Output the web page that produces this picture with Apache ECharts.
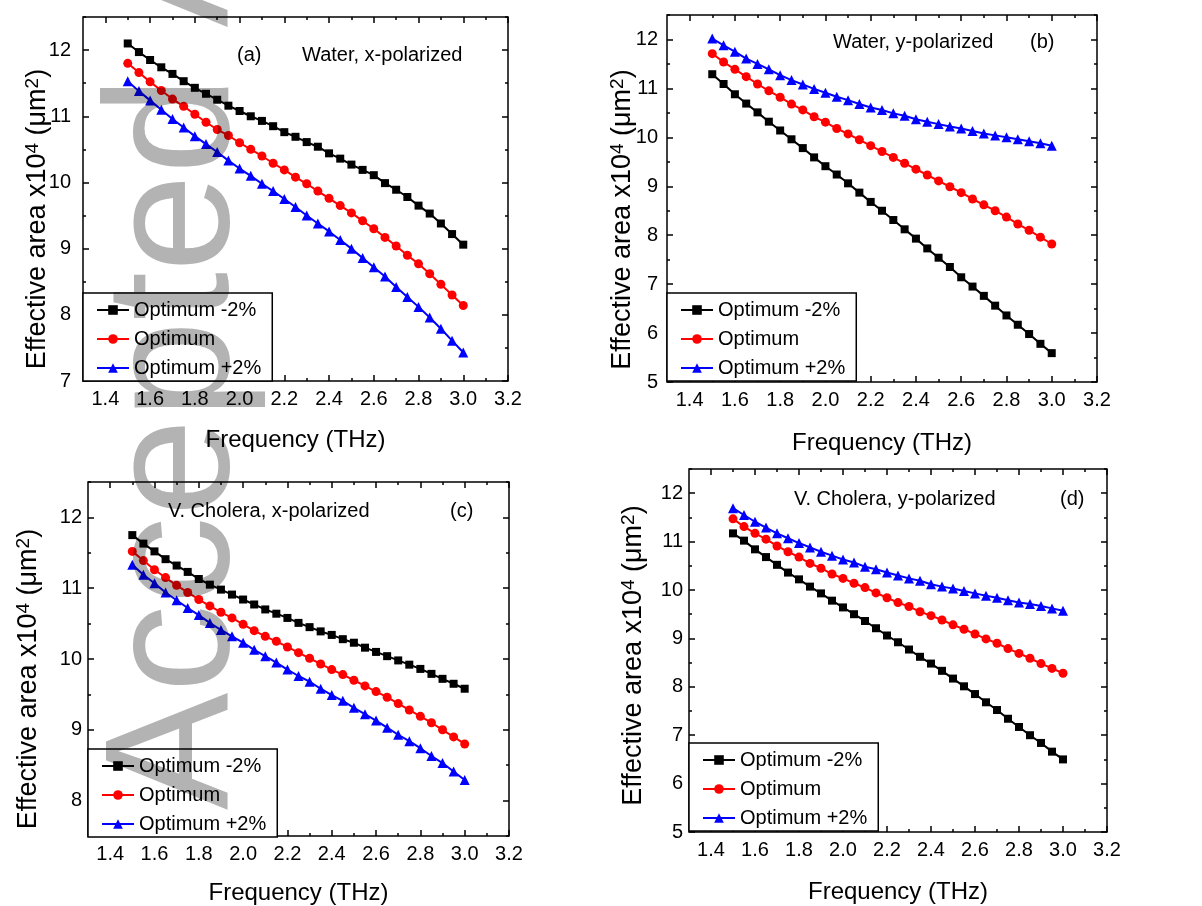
<!DOCTYPE html>
<html>
<head>
<meta charset="utf-8">
<script src="https://cdn.jsdelivr.net/npm/echarts@6/dist/echarts.min.js"></script>
<style>
  html, body { margin: 0; padding: 0; background: #fff; }
  #chart { width: 1202px; height: 906px; }
</style>
</head>
<body>
<div id="chart"></div>
<script>
// ---------------- data ----------------
const freq = [1.50,1.55,1.60,1.65,1.70,1.75,1.80,1.85,1.90,1.95,2.00,2.05,2.10,2.15,2.20,2.25,2.30,2.35,2.40,2.45,2.50,2.55,2.60,2.65,2.70,2.75,2.80,2.85,2.90,2.95,3.00];

const seriesNames = ['Optimum -2%', 'Optimum', 'Optimum +2%'];

// (a) Water, x-polarized
const waterX_m2  = [12.10,11.97,11.85,11.74,11.64,11.53,11.43,11.34,11.25,11.16,11.08,11.00,10.93,10.85,10.76,10.69,10.61,10.54,10.44,10.36,10.27,10.19,10.11,9.99,9.89,9.78,9.65,9.53,9.38,9.22,9.06];
const waterX_opt = [11.80,11.66,11.52,11.39,11.26,11.15,11.03,10.91,10.80,10.71,10.60,10.50,10.40,10.29,10.19,10.08,9.98,9.87,9.76,9.65,9.54,9.42,9.30,9.17,9.04,8.90,8.77,8.62,8.46,8.30,8.14];
const waterX_p2  = [11.53,11.38,11.24,11.10,10.96,10.83,10.70,10.58,10.46,10.33,10.21,10.10,9.98,9.87,9.75,9.63,9.50,9.38,9.26,9.13,9.00,8.86,8.72,8.58,8.42,8.27,8.12,7.96,7.79,7.61,7.43];

// (b) Water, y-polarized
const waterY_m2  = [11.29,11.09,10.88,10.69,10.51,10.32,10.14,9.96,9.78,9.59,9.41,9.24,9.06,8.87,8.68,8.50,8.31,8.12,7.93,7.73,7.54,7.35,7.14,6.95,6.76,6.56,6.36,6.17,5.98,5.78,5.59];
const waterY_opt = [11.71,11.54,11.39,11.24,11.09,10.95,10.82,10.68,10.56,10.42,10.31,10.18,10.07,9.95,9.83,9.71,9.59,9.47,9.35,9.23,9.11,8.99,8.87,8.74,8.62,8.50,8.37,8.23,8.10,7.96,7.82];
const waterY_p2  = [12.02,11.88,11.75,11.61,11.50,11.39,11.27,11.17,11.08,10.99,10.91,10.83,10.76,10.68,10.61,10.56,10.49,10.44,10.37,10.32,10.27,10.22,10.18,10.13,10.08,10.04,10.00,9.96,9.92,9.88,9.83];

// (c) V. Cholera, x-polarized
const cholX_m2  = [11.75,11.63,11.52,11.41,11.32,11.23,11.13,11.05,10.98,10.91,10.84,10.77,10.70,10.64,10.58,10.51,10.45,10.39,10.34,10.28,10.23,10.16,10.10,10.04,9.98,9.92,9.86,9.79,9.72,9.65,9.58];
const cholX_opt = [11.52,11.39,11.26,11.15,11.04,10.94,10.84,10.75,10.66,10.58,10.49,10.40,10.32,10.25,10.17,10.09,10.01,9.93,9.85,9.78,9.70,9.62,9.54,9.46,9.37,9.28,9.19,9.10,9.00,8.90,8.80];
const cholX_p2  = [11.33,11.19,11.07,10.94,10.83,10.72,10.62,10.51,10.41,10.32,10.23,10.13,10.04,9.95,9.85,9.76,9.68,9.58,9.49,9.41,9.31,9.22,9.13,9.03,8.93,8.84,8.74,8.63,8.53,8.41,8.29];

// (d) V. Cholera, y-polarized
const cholY_m2  = [11.17,11.02,10.84,10.68,10.52,10.36,10.22,10.07,9.93,9.78,9.64,9.50,9.36,9.21,9.06,8.92,8.77,8.62,8.48,8.33,8.17,8.01,7.85,7.68,7.52,7.34,7.17,7.00,6.84,6.66,6.50];
const cholY_opt = [11.47,11.31,11.17,11.05,10.91,10.79,10.68,10.55,10.45,10.33,10.24,10.14,10.05,9.94,9.84,9.74,9.66,9.55,9.47,9.38,9.28,9.19,9.09,8.99,8.90,8.79,8.69,8.59,8.48,8.38,8.28];
const cholY_p2  = [11.69,11.55,11.41,11.29,11.17,11.07,10.97,10.88,10.79,10.71,10.63,10.57,10.48,10.43,10.36,10.30,10.24,10.19,10.12,10.07,10.03,9.98,9.93,9.88,9.84,9.79,9.74,9.71,9.67,9.62,9.57];

// tick labels
const xMajorTicks = [1.4,1.6,1.8,2.0,2.2,2.4,2.6,2.8,3.0,3.2];
const xMinorTicks = [1.5,1.7,1.9,2.1,2.3,2.5,2.7,2.9,3.1];
const yMajorA = [7,8,9,10,11,12];
const yMinorA = [7.5,8.5,9.5,10.5,11.5,12.5];
const yMajorB = [5,6,7,8,9,10,11,12];
const yMinorB = [5.5,6.5,7.5,8.5,9.5,10.5,11.5,12.5];
const yMajorC = [8,9,10,11,12];
const yMinorC = [7.5,8.5,9.5,10.5,11.5,12.5];

const panelTitles = ['Water, x-polarized', 'Water, y-polarized', 'V. Cholera, x-polarized', 'V. Cholera, y-polarized'];
const panelTags = ['(a)', '(b)', '(c)', '(d)'];
const xTitle = 'Frequency (THz)';
const yTitle = 'Effective area x10{sup|4} (\u03bcm{sup|2})';
const watermark = 'Accepted Article';

// ---------------- layout ----------------
const FONT = 'Arial, "Liberation Sans", Helvetica, sans-serif';
const colors = ['#000000', '#ff0000', '#0000ff'];
const symbols = ['rect', 'circle', 'triangle'];
const symbolSizes = [8, 9, 10];

const panels = [
  { grid: {left: 83, top: 17, width: 425, height: 364}, ymin: 7, ymax: 12.5, yMajor: yMajorA, yMinor: yMinorA,
    data: [waterX_m2, waterX_opt, waterX_p2], xGap: 47, yGap: 30, yShift: 20, yLabMargin: 12,
    legend: {left: 83, top: 293},
    title: {x: 302, y: 55}, tag: {x: 237, y: 55} },
  { grid: {left: 667, top: 15, width: 430, height: 367}, ymin: 5, ymax: 12.5, yMajor: yMajorB, yMinor: yMinorB,
    data: [waterY_m2, waterY_opt, waterY_p2], xGap: 49, yGap: 29, yShift: 21, yLabMargin: 9,
    legend: {left: 667, top: 293},
    title: {x: 833, y: 42}, tag: {x: 1030, y: 42} },
  { grid: {left: 88, top: 482, width: 421, height: 354}, ymin: 7.5, ymax: 12.5, yMajor: yMajorC, yMinor: yMinorC,
    data: [cholX_m2, cholX_opt, cholX_p2], xGap: 45, yGap: 44, yShift: 20, yLabMargin: 6,
    legend: {left: 88, top: 749},
    title: {x: 168, y: 511}, tag: {x: 450, y: 511} },
  { grid: {left: 689, top: 469, width: 418, height: 363}, ymin: 5, ymax: 12.5, yMajor: yMajorB, yMinor: yMinorB,
    data: [cholY_m2, cholY_opt, cholY_p2], xGap: 48, yGap: 40, yShift: 5, yLabMargin: 6,
    legend: {left: 689, top: 743},
    title: {x: 794, y: 499}, tag: {x: 1060, y: 499} }
];

const grids = [], xAxes = [], yAxes = [], series = [], legends = [], graphics = [];

function tickAxis(base, pos, ticks, len, extra) {
  return Object.assign({
    type: 'value', position: pos,
    axisLine: {show: false, onZero: false},
    splitLine: {show: false},
    axisTick: {show: true, inside: true, length: len, customValues: ticks,
               lineStyle: {color: '#000', width: 1.5}},
    axisLabel: {show: false}
  }, base, extra || {});
}

panels.forEach((p, g) => {
  grids.push(Object.assign({show: true, borderColor: '#000', borderWidth: 1.5,
                            backgroundColor: 'transparent', containLabel: false}, p.grid));
  const xb = {gridIndex: g, min: 1.3, max: 3.2};
  const yb = {gridIndex: g, min: p.ymin, max: p.ymax};
  xAxes.push(tickAxis(xb, 'bottom', xMajorTicks, 6, {
    axisLabel: {show: true, customValues: xMajorTicks, margin: 8, fontSize: 20, color: '#000', fontFamily: FONT,
                formatter: v => Number(v).toFixed(1)},
    name: xTitle, nameLocation: 'middle', nameGap: p.xGap, nameMoveOverlap: false,
    nameTextStyle: {fontSize: 24, color: '#000', fontFamily: FONT}
  }));
  xAxes.push(tickAxis(xb, 'bottom', xMinorTicks, 3));
  xAxes.push(tickAxis(xb, 'top', xMajorTicks, 6));
  xAxes.push(tickAxis(xb, 'top', xMinorTicks, 3));
  yAxes.push(tickAxis(yb, 'left', p.yMajor, 6, {
    axisLabel: {show: true, customValues: p.yMajor, margin: p.yLabMargin, fontSize: 20, color: '#000', fontFamily: FONT,
                formatter: v => String(Math.round(v))},
    name: yTitle, nameLocation: 'middle', nameGap: p.yGap, nameRotate: 90, nameMoveOverlap: false,
    nameTextStyle: {fontSize: 27, color: '#000', fontFamily: FONT, lineHeight: 30,
                    padding: [0, 2 * p.yShift, 0, 0],
                    rich: {sup: {fontSize: 19, lineHeight: 19, verticalAlign: 'top', color: '#000', fontFamily: FONT}}}
  }));
  yAxes.push(tickAxis(yb, 'left', p.yMinor, 3));
  yAxes.push(tickAxis(yb, 'right', p.yMajor, 6));
  yAxes.push(tickAxis(yb, 'right', p.yMinor, 3));

  p.data.forEach((arr, k) => {
    series.push({
      name: seriesNames[k], type: 'line', xAxisIndex: 4 * g, yAxisIndex: 4 * g,
      data: freq.map((f, i) => [f, arr[i]]),
      symbol: symbols[k], symbolSize: symbolSizes[k], showAllSymbol: true,
      lineStyle: {color: colors[k], width: 2},
      itemStyle: {color: colors[k]},
      emphasis: {disabled: true},
      animation: false, z: 3 + k
    });
  });

  legends.push({
    data: seriesNames, left: p.legend.left, top: p.legend.top, orient: 'vertical',
    backgroundColor: '#fff', borderColor: '#000', borderWidth: 1.5, borderRadius: 0,
    padding: [7, 11, 3, 13], itemGap: 9, itemWidth: 32, itemHeight: 12,
    selectedMode: false, z: 10,
    textStyle: {fontSize: 20, color: '#000', fontFamily: FONT, lineHeight: 20}
  });

  graphics.push({type: 'text', x: p.title.x, y: p.title.y, z: 20,
    style: {text: panelTitles[g], font: '20px ' + FONT, fill: '#000', align: 'left', verticalAlign: 'middle'}});
  graphics.push({type: 'text', x: p.tag.x, y: p.tag.y, z: 20,
    style: {text: panelTags[g], font: '20px ' + FONT, fill: '#000', align: 'left', verticalAlign: 'middle'}});
});

// watermark on its own layer (zlevel 1), blended with multiply
const WM_ZLEVEL = 1;
graphics.push({type: 'text', x: 179, y: 810, rotation: Math.PI / 2, zlevel: WM_ZLEVEL, z: 100, silent: true,
  style: {text: watermark, font: '176px ' + FONT, fill: '#b3b3b3', align: 'left', verticalAlign: 'middle'}});

const chart = echarts.init(document.getElementById('chart'), null, {renderer: 'canvas'});
chart.setOption({
  backgroundColor: '#fff',
  animation: false,
  grid: grids, xAxis: xAxes, yAxis: yAxes, series: series, legend: legends,
  graphic: graphics
});

function applyBlend() {
  const zr = chart.getZr();
  try { zr.flush(); } catch (e) {}
  const painter = zr.painter;
  if (painter && painter.getLayer) {
    const layer = painter.getLayer(WM_ZLEVEL);
    if (layer && layer.dom) layer.dom.style.mixBlendMode = 'multiply';
  }
}
applyBlend();
chart.on('finished', applyBlend);
</script>
</body>
</html>
